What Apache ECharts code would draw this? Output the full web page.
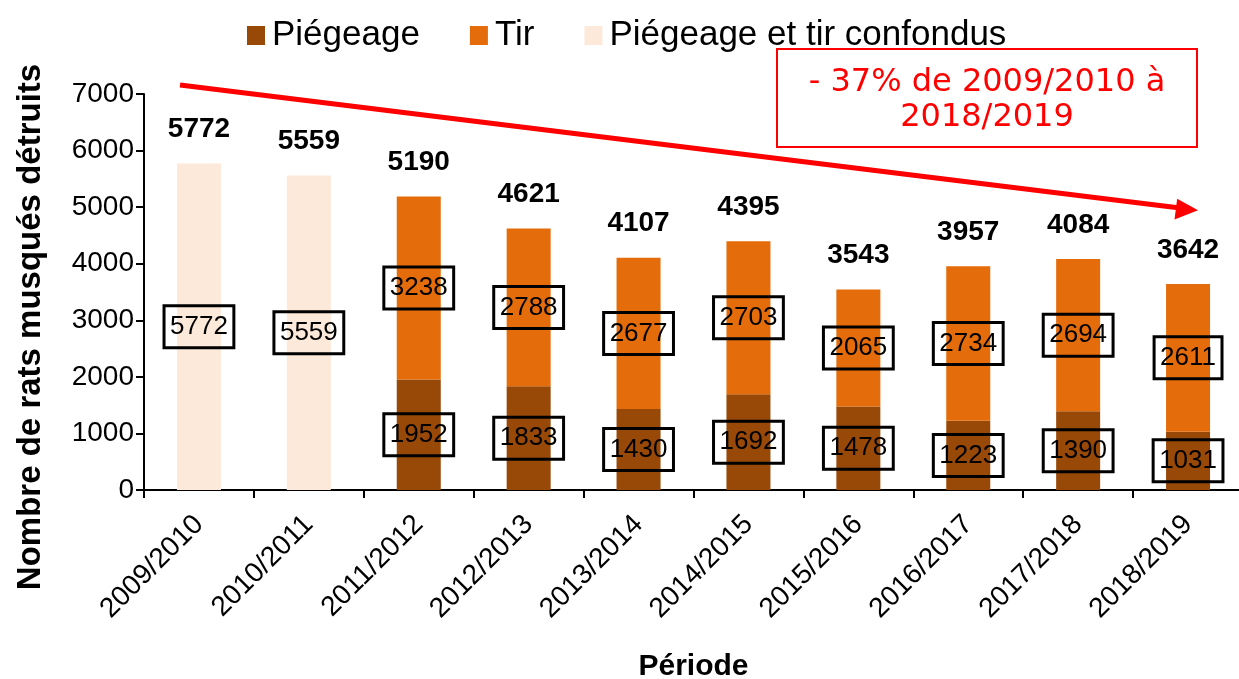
<!DOCTYPE html>
<html><head><meta charset="utf-8">
<script src="https://cdn.jsdelivr.net/npm/echarts@6/dist/echarts.min.js"></script>
<style>html,body{margin:0;padding:0;background:#fff}#c{width:1239px;height:679px}</style>
</head><body><div id="c"></div>
<script>
const categories = ['2009/2010','2010/2011','2011/2012','2012/2013','2013/2014','2014/2015','2015/2016','2016/2017','2017/2018','2018/2019'];
const piegeage = ['-','-',1952,1833,1430,1692,1478,1223,1390,1031];
const tir = ['-','-',3238,2788,2677,2703,2065,2734,2694,2611];
const confondus = [5772,5559,'-','-','-','-','-','-','-','-'];
const totals = [5772,5559,5190,4621,4107,4395,3543,3957,4084,3642];
const yTicks = {min:0, max:7000, interval:1000};
const annotation = ['- 37% de 2009/2010 à', '2018/2019'];

const FONT = '"Liberation Sans", Arial, sans-serif';
const boxLabel = {
  show:true, position:'inside', color:'#000', fontSize:26, fontFamily:FONT,
  borderColor:'#000', borderWidth:1.5, padding:[9,6,7,6], backgroundColor:'transparent'
};
const chart = echarts.init(document.getElementById('c'));
chart.setOption({
  animation:false,
  textStyle:{fontFamily:FONT},
  grid:{left:144, top:94, width:1099, height:396, containLabel:false, outerBoundsMode:'none'},
  legend:{
    data:['Piégeage','Tir','Piégeage et tir confondus'],
    left:242, top:13, icon:'rect', itemWidth:18, itemHeight:19, itemGap:50,
    textStyle:{fontSize:35, color:'#000', fontFamily:FONT, padding:[0,0,0,2]}
  },
  xAxis:{
    type:'category', data:categories,
    name:'Période', nameLocation:'middle', nameGap:162,
    nameTextStyle:{fontSize:30, fontWeight:'bold', color:'#000', fontFamily:FONT},
    axisLine:{lineStyle:{color:'#000', width:2}},
    axisTick:{show:true, length:8, lineStyle:{color:'#000', width:2}},
    axisLabel:{rotate:45, fontSize:28, color:'#000', margin:30, fontFamily:FONT}
  },
  yAxis:{
    type:'value', min:yTicks.min, max:yTicks.max, interval:yTicks.interval,
    name:'Nombre de rats musqués détruits', nameLocation:'middle', nameGap:97,
    nameTextStyle:{fontSize:33, fontWeight:'bold', color:'#000', fontFamily:FONT, padding:[0,70,0,0]},
    axisLine:{show:true, lineStyle:{color:'#000', width:2}},
    axisTick:{show:true, length:8, lineStyle:{color:'#000', width:2}},
    axisLabel:{fontSize:28, color:'#000', margin:10, fontFamily:FONT, formatter:v => String(v)},
    splitLine:{show:false}
  },
  series:[
    {name:'Piégeage', type:'bar', stack:'a', data:piegeage, barWidth:44, itemStyle:{color:'#984807'}, label:boxLabel},
    {name:'Tir', type:'bar', stack:'a', data:tir, barWidth:44, itemStyle:{color:'#E46C0A'}, label:boxLabel},
    {name:'Piégeage et tir confondus', type:'bar', stack:'a', data:confondus, barWidth:44, itemStyle:{color:'#FDE9D9'}, label:boxLabel},
    {name:'Total', type:'scatter', data:totals, symbolSize:0, silent:true, itemStyle:{opacity:1},
     label:{show:true, position:'top', distance:20, fontSize:28, fontWeight:'bold', color:'#000', fontFamily:FONT}}
  ],
  graphic:[
    {type:'line', shape:{x1:180, y1:85, x2:1180, y2:207.9}, style:{stroke:'#FF0000', lineWidth:5}},
    {type:'polygon', shape:{points:[[1198,210.2],[1177.2,198.7],[1174.5,219.5]]}, style:{fill:'#FF0000'}},
    {type:'rect', shape:{x:777, y:49, width:420, height:98}, style:{fill:'#fff', stroke:'#FF0000', lineWidth:2}},
    {type:'text', x:987, y:83, style:{text:annotation[0], fill:'#FF0000', font:'32px "DejaVu Sans", sans-serif', align:'center', verticalAlign:'middle'}},
    {type:'text', x:987, y:118, style:{text:annotation[1], fill:'#FF0000', font:'32px "DejaVu Sans", sans-serif', align:'center', verticalAlign:'middle'}}
  ]
});
</script></body></html>
